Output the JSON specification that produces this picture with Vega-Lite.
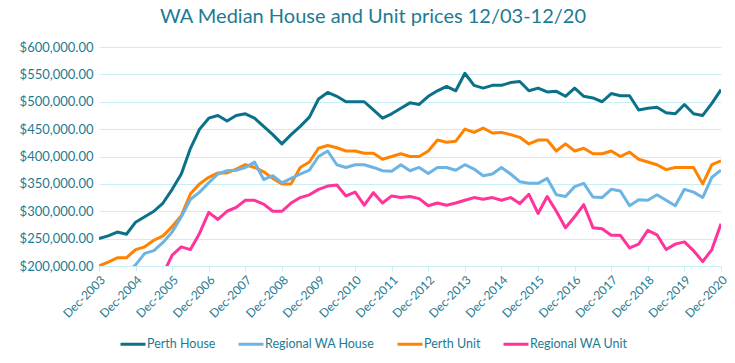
{
  "$schema": "https://vega.github.io/schema/vega-lite/v6.json",
  "autosize": {"type": "none"},
  "width": 622,
  "height": 219,
  "padding": {"left": 99, "top": 47, "right": 14, "bottom": 97},
  "background": "white",
  "title": {
    "text": "WA Median House and Unit prices 12/03-12/20",
    "font": "Lato",
    "fontSize": 20,
    "fontWeight": "normal",
    "color": "#1E7A92",
    "anchor": "middle",
    "dx": -37,
    "offset": 14
  },
  "config": {
    "view": {"stroke": null},
    "font": "Lato"
  },
  "data": {
    "values": [
      {"q": "Dec-2003", "Perth House": 250000, "Perth Unit": 200000},
      {"q": "Mar-2004", "Perth House": 255000, "Perth Unit": 207000},
      {"q": "Jun-2004", "Perth House": 262000, "Perth Unit": 215000},
      {"q": "Sep-2004", "Perth House": 258000, "Regional WA House": 188000, "Perth Unit": 215000},
      {"q": "Dec-2004", "Perth House": 280000, "Regional WA House": 202000, "Perth Unit": 230000},
      {"q": "Mar-2005", "Perth House": 290000, "Regional WA House": 223000, "Perth Unit": 235000},
      {"q": "Jun-2005", "Perth House": 300000, "Regional WA House": 228000, "Perth Unit": 247000},
      {"q": "Sep-2005", "Perth House": 315000, "Regional WA House": 243000, "Perth Unit": 255000, "Regional WA Unit": 185000},
      {"q": "Dec-2005", "Perth House": 340000, "Regional WA House": 262000, "Perth Unit": 272000, "Regional WA Unit": 220000},
      {"q": "Mar-2006", "Perth House": 368000, "Regional WA House": 290000, "Perth Unit": 292000, "Regional WA Unit": 235000},
      {"q": "Jun-2006", "Perth House": 415000, "Regional WA House": 322000, "Perth Unit": 332000, "Regional WA Unit": 230000},
      {"q": "Sep-2006", "Perth House": 450000, "Regional WA House": 335000, "Perth Unit": 350000, "Regional WA Unit": 260000},
      {"q": "Dec-2006", "Perth House": 470000, "Regional WA House": 352000, "Perth Unit": 362000, "Regional WA Unit": 298000},
      {"q": "Mar-2007", "Perth House": 475000, "Regional WA House": 368000, "Perth Unit": 370000, "Regional WA Unit": 285000},
      {"q": "Jun-2007", "Perth House": 465000, "Regional WA House": 374000, "Perth Unit": 370000, "Regional WA Unit": 300000},
      {"q": "Sep-2007", "Perth House": 475000, "Regional WA House": 375000, "Perth Unit": 377000, "Regional WA Unit": 307000},
      {"q": "Dec-2007", "Perth House": 478000, "Regional WA House": 380000, "Perth Unit": 385000, "Regional WA Unit": 320000},
      {"q": "Mar-2008", "Perth House": 470000, "Regional WA House": 390000, "Perth Unit": 380000, "Regional WA Unit": 320000},
      {"q": "Jun-2008", "Perth House": 455000, "Regional WA House": 358000, "Perth Unit": 372000, "Regional WA Unit": 313000},
      {"q": "Sep-2008", "Perth House": 440000, "Regional WA House": 365000, "Perth Unit": 360000, "Regional WA Unit": 300000},
      {"q": "Dec-2008", "Perth House": 423000, "Regional WA House": 352000, "Perth Unit": 350000, "Regional WA Unit": 300000},
      {"q": "Mar-2009", "Perth House": 440000, "Regional WA House": 360000, "Perth Unit": 350000, "Regional WA Unit": 315000},
      {"q": "Jun-2009", "Perth House": 455000, "Regional WA House": 368000, "Perth Unit": 380000, "Regional WA Unit": 325000},
      {"q": "Sep-2009", "Perth House": 472000, "Regional WA House": 375000, "Perth Unit": 390000, "Regional WA Unit": 330000},
      {"q": "Dec-2009", "Perth House": 505000, "Regional WA House": 400000, "Perth Unit": 415000, "Regional WA Unit": 340000},
      {"q": "Mar-2010", "Perth House": 517000, "Regional WA House": 410000, "Perth Unit": 420000, "Regional WA Unit": 346000},
      {"q": "Jun-2010", "Perth House": 510000, "Regional WA House": 385000, "Perth Unit": 416000, "Regional WA Unit": 348000},
      {"q": "Sep-2010", "Perth House": 500000, "Regional WA House": 380000, "Perth Unit": 410000, "Regional WA Unit": 328000},
      {"q": "Dec-2010", "Perth House": 500000, "Regional WA House": 385000, "Perth Unit": 410000, "Regional WA Unit": 335000},
      {"q": "Mar-2011", "Perth House": 500000, "Regional WA House": 385000, "Perth Unit": 406000, "Regional WA Unit": 311000},
      {"q": "Jun-2011", "Perth House": 485000, "Regional WA House": 380000, "Perth Unit": 406000, "Regional WA Unit": 334000},
      {"q": "Sep-2011", "Perth House": 470000, "Regional WA House": 374000, "Perth Unit": 395000, "Regional WA Unit": 315000},
      {"q": "Dec-2011", "Perth House": 478000, "Regional WA House": 373000, "Perth Unit": 400000, "Regional WA Unit": 328000},
      {"q": "Mar-2012", "Perth House": 488000, "Regional WA House": 385000, "Perth Unit": 405000, "Regional WA Unit": 325000},
      {"q": "Jun-2012", "Perth House": 498000, "Regional WA House": 374000, "Perth Unit": 400000, "Regional WA Unit": 327000},
      {"q": "Sep-2012", "Perth House": 495000, "Regional WA House": 380000, "Perth Unit": 400000, "Regional WA Unit": 323000},
      {"q": "Dec-2012", "Perth House": 510000, "Regional WA House": 369000, "Perth Unit": 410000, "Regional WA Unit": 310000},
      {"q": "Mar-2013", "Perth House": 520000, "Regional WA House": 380000, "Perth Unit": 430000, "Regional WA Unit": 315000},
      {"q": "Jun-2013", "Perth House": 528000, "Regional WA House": 380000, "Perth Unit": 426000, "Regional WA Unit": 311000},
      {"q": "Sep-2013", "Perth House": 520000, "Regional WA House": 375000, "Perth Unit": 428000, "Regional WA Unit": 315000},
      {"q": "Dec-2013", "Perth House": 552000, "Regional WA House": 385000, "Perth Unit": 450000, "Regional WA Unit": 320000},
      {"q": "Mar-2014", "Perth House": 530000, "Regional WA House": 377000, "Perth Unit": 444000, "Regional WA Unit": 325000},
      {"q": "Jun-2014", "Perth House": 525000, "Regional WA House": 365000, "Perth Unit": 452000, "Regional WA Unit": 322000},
      {"q": "Sep-2014", "Perth House": 530000, "Regional WA House": 368000, "Perth Unit": 443000, "Regional WA Unit": 325000},
      {"q": "Dec-2014", "Perth House": 530000, "Regional WA House": 380000, "Perth Unit": 444000, "Regional WA Unit": 320000},
      {"q": "Mar-2015", "Perth House": 535000, "Regional WA House": 368000, "Perth Unit": 440000, "Regional WA Unit": 325000},
      {"q": "Jun-2015", "Perth House": 537000, "Regional WA House": 354000, "Perth Unit": 435000, "Regional WA Unit": 314000},
      {"q": "Sep-2015", "Perth House": 520000, "Regional WA House": 351000, "Perth Unit": 423000, "Regional WA Unit": 331000},
      {"q": "Dec-2015", "Perth House": 525000, "Regional WA House": 351000, "Perth Unit": 430000, "Regional WA Unit": 296000},
      {"q": "Mar-2016", "Perth House": 518000, "Regional WA House": 360000, "Perth Unit": 430000, "Regional WA Unit": 327000},
      {"q": "Jun-2016", "Perth House": 519000, "Regional WA House": 330000, "Perth Unit": 410000, "Regional WA Unit": 300000},
      {"q": "Sep-2016", "Perth House": 510000, "Regional WA House": 327000, "Perth Unit": 423000, "Regional WA Unit": 270000},
      {"q": "Dec-2016", "Perth House": 525000, "Regional WA House": 345000, "Perth Unit": 410000, "Regional WA Unit": 290000},
      {"q": "Mar-2017", "Perth House": 510000, "Regional WA House": 351000, "Perth Unit": 415000, "Regional WA Unit": 312000},
      {"q": "Jun-2017", "Perth House": 507000, "Regional WA House": 326000, "Perth Unit": 405000, "Regional WA Unit": 270000},
      {"q": "Sep-2017", "Perth House": 500000, "Regional WA House": 325000, "Perth Unit": 405000, "Regional WA Unit": 268000},
      {"q": "Dec-2017", "Perth House": 515000, "Regional WA House": 340000, "Perth Unit": 410000, "Regional WA Unit": 256000},
      {"q": "Mar-2018", "Perth House": 511000, "Regional WA House": 337000, "Perth Unit": 400000, "Regional WA Unit": 256000},
      {"q": "Jun-2018", "Perth House": 511000, "Regional WA House": 310000, "Perth Unit": 408000, "Regional WA Unit": 233000},
      {"q": "Sep-2018", "Perth House": 485000, "Regional WA House": 321000, "Perth Unit": 395000, "Regional WA Unit": 240000},
      {"q": "Dec-2018", "Perth House": 488000, "Regional WA House": 320000, "Perth Unit": 390000, "Regional WA Unit": 265000},
      {"q": "Mar-2019", "Perth House": 490000, "Regional WA House": 330000, "Perth Unit": 385000, "Regional WA Unit": 257000},
      {"q": "Jun-2019", "Perth House": 480000, "Regional WA House": 320000, "Perth Unit": 376000, "Regional WA Unit": 230000},
      {"q": "Sep-2019", "Perth House": 478000, "Regional WA House": 310000, "Perth Unit": 380000, "Regional WA Unit": 240000},
      {"q": "Dec-2019", "Perth House": 495000, "Regional WA House": 340000, "Perth Unit": 380000, "Regional WA Unit": 244000},
      {"q": "Mar-2020", "Perth House": 478000, "Regional WA House": 335000, "Perth Unit": 380000, "Regional WA Unit": 228000},
      {"q": "Jun-2020", "Perth House": 475000, "Regional WA House": 325000, "Perth Unit": 350000, "Regional WA Unit": 208000},
      {"q": "Sep-2020", "Perth House": 497000, "Regional WA House": 362000, "Perth Unit": 385000, "Regional WA Unit": 230000},
      {"q": "Dec-2020", "Perth House": 522000, "Regional WA House": 375000, "Perth Unit": 392000, "Regional WA Unit": 277000}
    ]
  },
  "transform": [
    {"fold": ["Perth House", "Regional WA House", "Perth Unit", "Regional WA Unit"], "as": ["series", "value"]},
    {"filter": "isValid(datum.value)"}
  ],
  "mark": {"type": "line", "strokeWidth": 3, "clip": true, "strokeJoin": "round"},
  "encoding": {
    "x": {
      "field": "q",
      "type": "ordinal",
      "sort": null,
      "scale": {"type": "point", "padding": 0},
      "axis": {
        "title": null,
        "values": ["Dec-2003", "Dec-2004", "Dec-2005", "Dec-2006", "Dec-2007", "Dec-2008", "Dec-2009", "Dec-2010", "Dec-2011", "Dec-2012", "Dec-2013", "Dec-2014", "Dec-2015", "Dec-2016", "Dec-2017", "Dec-2018", "Dec-2019", "Dec-2020"],
        "labelAngle": -45,
        "labelFontSize": 12,
        "labelColor": "#1E7A92",
        "labelFont": "Lato",
        "domainColor": "#C8EEF6",
        "tickColor": "#C8EEF6",
        "tickSize": 5,
        "labelPadding": 3,
        "grid": false
      }
    },
    "y": {
      "field": "value",
      "type": "quantitative",
      "scale": {"domain": [200000, 600000], "nice": false, "zero": false},
      "axis": {
        "title": null,
        "values": [200000, 250000, 300000, 350000, 400000, 450000, 500000, 550000, 600000],
        "format": "$,.2f",
        "labelFontSize": 13,
        "labelColor": "#1E7A92",
        "labelFont": "Lato",
        "domain": false,
        "ticks": false,
        "labelPadding": 6,
        "gridColor": "#C8EEF6",
        "gridWidth": 1
      }
    },
    "color": {
      "field": "series",
      "type": "nominal",
      "sort": ["Perth House", "Regional WA House", "Perth Unit", "Regional WA Unit"],
      "scale": {
        "domain": ["Perth House", "Regional WA House", "Perth Unit", "Regional WA Unit"],
        "range": ["#0A7189", "#6CB4E4", "#FF8300", "#FF3399"]
      },
      "legend": {
        "title": null,
        "orient": "none",
        "direction": "horizontal",
        "legendX": 20,
        "legendY": 283,
        "symbolType": "stroke",
        "symbolStrokeWidth": 3,
        "symbolSize": 625,
        "labelFontSize": 12.5,
        "labelColor": "#1E7A92",
        "labelFont": "Lato",
        "labelOffset": 0,
        "columnPadding": 16
      }
    }
  }
}
